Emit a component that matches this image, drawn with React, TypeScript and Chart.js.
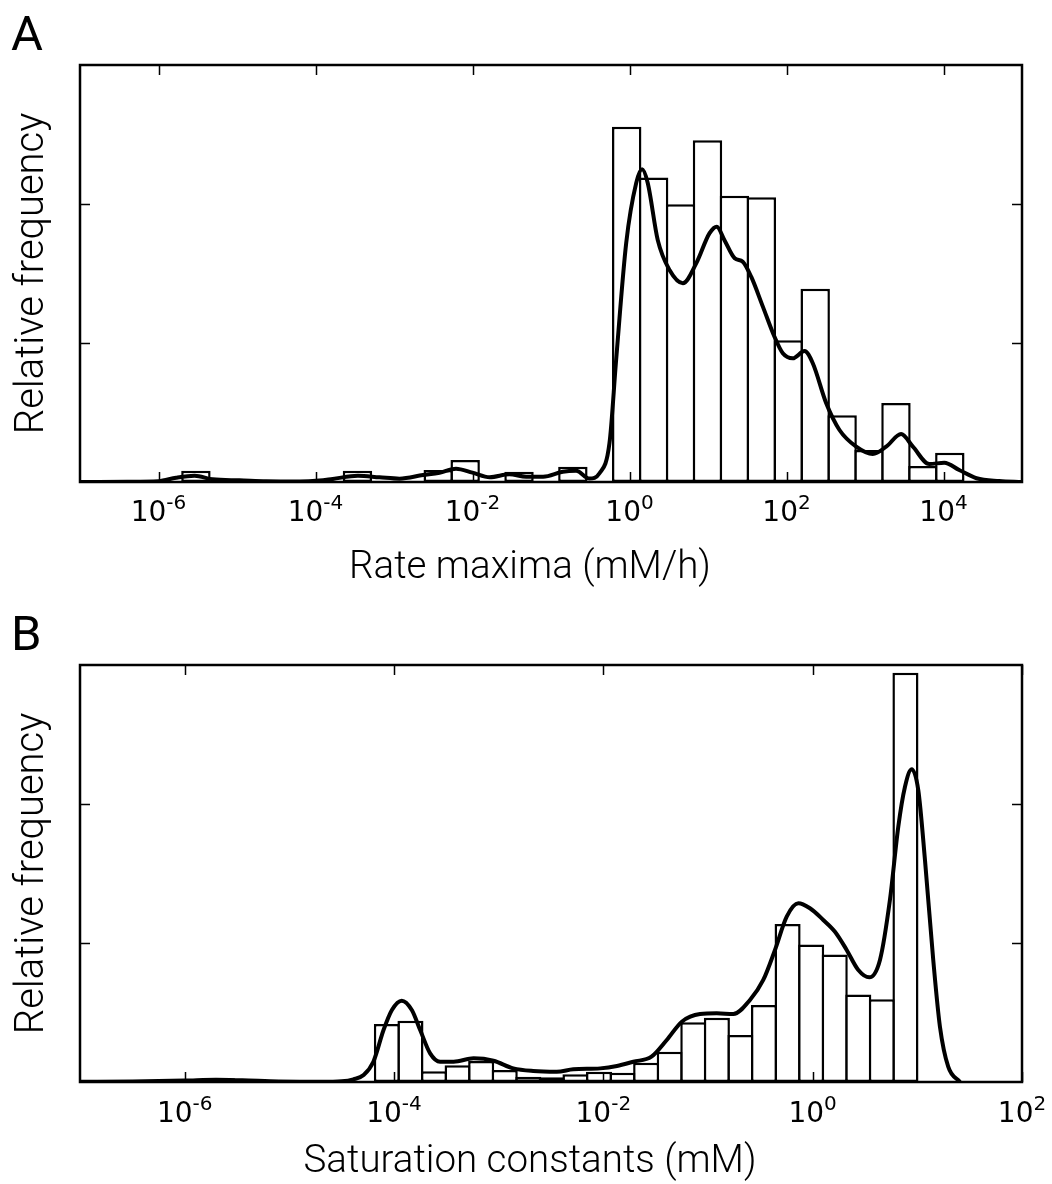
import React, { useEffect, useRef } from "react";
import { Chart, registerables } from "chart.js";

Chart.register(...registerables);

// ---------- Panel A: Rate maxima ----------
const rateBinStart = -5.695; // log10 of first bin's left edge
const rateBinWidth = 0.343; // bin width in decades
const rateFreq = [
  0.081, 0, 0, 0, 0, 0, 0.081, 0, 0, 0.086, 0.158, 0, 0.074, 0, 0.11, 0,
  2.556, 2.19, 1.998, 2.458, 2.06, 2.048, 1.02, 1.39, 0.48, 0.23, 0.568, 0.115, 0.211,
];
const rateKdeLog = [
  -7, -6.4, -6.0, -5.775, -5.54, -5.31, -4.97, -4.63, -4.2, -3.95, -3.78, -3.46, -3.185,
  -2.93, -2.63, -2.42, -2.21, -2.0, -1.78, -1.53, -1.316, -1.1, -0.85, -0.68, -0.51,
  -0.382, -0.255, -0.17, -0.042, 0.085, 0.16, 0.233, 0.36, 0.51, 0.68, 0.85, 1.02, 1.112,
  1.21, 1.34, 1.443, 1.55, 1.7, 1.847, 1.953, 2.08, 2.23, 2.335, 2.506, 2.675, 2.888, 3.1,
  3.27, 3.46, 3.61, 3.82, 4.01, 4.2, 4.42, 4.71, 5.0,
];
const rateKdeVal = [
  0, 0.002, 0.006, 0.031, 0.045, 0.019, 0.012, 0.005, 0.003, 0.01, 0.022, 0.045, 0.034,
  0.024, 0.05, 0.067, 0.096, 0.067, 0.034, 0.055, 0.038, 0.038, 0.074, 0.081, 0.025,
  0.063, 0.28, 0.88, 1.72, 2.15, 2.25, 2.15, 1.74, 1.525, 1.43, 1.573, 1.79, 1.837,
  1.74, 1.61, 1.585, 1.477, 1.26, 1.045, 0.926, 0.89, 0.942, 0.854, 0.566, 0.374, 0.254, 0.201,
  0.254, 0.345, 0.254, 0.129, 0.139, 0.086, 0.027, 0.007, 0,
];
const rateTickExps = [-6, -4, -2, 0, 2, 4];

// ---------- Panel B: Saturation constants ----------
const satBinStart = -5.757;
const satBinWidth = 0.2252;
const satFreq = [
  0.027, 0, 0, 0, 0, 0, 0, 0.417, 0.441, 0.077, 0.12, 0.151, 0.086, 0.038, 0.034, 0.055,
  0.074, 0.067, 0.139, 0.218, 0.43, 0.463, 0.338, 0.554, 1.137, 0.99, 0.918, 0.63, 0.595, 2.945,
];
const satKdeLog = [
  -7, -6.5, -6.0, -5.7, -5.45, -5.1, -4.7, -4.5, -4.388, -4.29, -4.197, -4.1, -4.02, -3.926,
  -3.83, -3.75, -3.655, -3.56, -3.43, -3.24, -3.05, -2.86, -2.67, -2.445, -2.287, -2.03,
  -1.87, -1.713, -1.54, -1.394, -1.25, -1.076, -0.917, -0.758, -0.599, -0.472, -0.36,
  -0.248, -0.137, -0.026, 0.101, 0.213, 0.325, 0.436, 0.541, 0.643, 0.738, 0.818, 0.882,
  0.946, 1.009, 1.073, 1.152, 1.216, 1.295, 1.407,
];
const satKdeVal = [
  0.001, 0.004, 0.01, 0.016, 0.012, 0.004, 0.001, 0.005, 0.019, 0.05, 0.146, 0.374, 0.518, 0.585,
  0.518, 0.374, 0.206, 0.146, 0.146, 0.17, 0.153, 0.098, 0.079, 0.074, 0.091, 0.098,
  0.115, 0.146, 0.182, 0.302, 0.434, 0.489, 0.494, 0.489, 0.59, 0.734, 0.95,
  1.19, 1.286, 1.25, 1.166, 1.081, 0.95, 0.806, 0.753, 0.878, 1.309, 1.837, 2.124,
  2.25, 2.1, 1.597, 0.878, 0.398, 0.11, 0,
];
const satTickExps = [-6, -4, -2, 0, 2];

const yTickValues = [1, 2];

type PanelSpec = {
  letter: string;
  xLabel: string;
  yLabel: string;
  binStart: number;
  binWidth: number;
  freq: number[];
  kdeLog: number[];
  kdeVal: number[];
  tickExps: number[];
  xMinExp: number;
  xMaxExp: number;
  padding: { left: number; right: number; top: number; bottom: number };
  letterBaseline: number;
  tickBaselineOffset: number;
  xLabelBaselineOffset: number;
};

const panels: PanelSpec[] = [
  {
    letter: "A",
    xLabel: "Rate maxima (mM/h)",
    yLabel: "Relative frequency",
    binStart: rateBinStart,
    binWidth: rateBinWidth,
    freq: rateFreq,
    kdeLog: rateKdeLog,
    kdeVal: rateKdeVal,
    tickExps: rateTickExps,
    xMinExp: -7,
    xMaxExp: 5,
    padding: { left: 80, right: 30, top: 65, bottom: 110 },
    letterBaseline: 50,
    tickBaselineOffset: 39,
    xLabelBaselineOffset: 96,
  },
  {
    letter: "B",
    xLabel: "Saturation constants (mM)",
    yLabel: "Relative frequency",
    binStart: satBinStart,
    binWidth: satBinWidth,
    freq: satFreq,
    kdeLog: satKdeLog,
    kdeVal: satKdeVal,
    tickExps: satTickExps,
    xMinExp: -7,
    xMaxExp: 2,
    padding: { left: 80, right: 30, top: 73, bottom: 102 },
    letterBaseline: 58,
    tickBaselineOffset: 40,
    xLabelBaselineOffset: 90,
  },
];

const W = 1052;
const H = 592;
const LABEL_FONT = '"Roboto", "Helvetica Neue", Arial, sans-serif';
const TICK_FONT = '"DejaVu Sans", sans-serif';

function makeDecorPlugin(spec: PanelSpec) {
  return {
    id: "mplDecor" + spec.letter,
    afterDraw(chart: any) {
      const ctx: CanvasRenderingContext2D = chart.ctx;
      const { left, right, top, bottom } = chart.chartArea;
      const xs = chart.scales.x;
      const ys = chart.scales.y;
      ctx.save();
      ctx.strokeStyle = "#000";
      ctx.lineCap = "butt";
      // ticks (inward, all four sides)
      ctx.lineWidth = 1.5;
      xs.ticks.forEach((t: any) => {
        const px = Math.round(xs.getPixelForValue(t.value)) + 0.5;
        ctx.beginPath();
        ctx.moveTo(px, bottom);
        ctx.lineTo(px, bottom - 10);
        ctx.moveTo(px, top);
        ctx.lineTo(px, top + 10);
        ctx.stroke();
      });
      yTickValues.forEach((v) => {
        const py = Math.round(ys.getPixelForValue(v)) + 0.5;
        ctx.beginPath();
        ctx.moveTo(left, py);
        ctx.lineTo(left + 10, py);
        ctx.moveTo(right, py);
        ctx.lineTo(right - 10, py);
        ctx.stroke();
      });
      // frame
      ctx.lineWidth = 2.5;
      ctx.strokeRect(left, top, right - left, bottom - top);

      // x tick labels 10^k
      ctx.fillStyle = "#000";
      ctx.textBaseline = "alphabetic";
      ctx.textAlign = "left";
      const baseY = bottom + spec.tickBaselineOffset;
      spec.tickExps.forEach((k) => {
        const px = xs.getPixelForValue(Math.pow(10, k));
        const base = "10";
        const sup = String(k);
        ctx.font = `28px ${TICK_FONT}`;
        const wb = ctx.measureText(base).width;
        ctx.font = `20px ${TICK_FONT}`;
        const ws = ctx.measureText(sup).width;
        const x0 = px - (wb + ws) / 2;
        ctx.font = `28px ${TICK_FONT}`;
        ctx.fillText(base, x0, baseY);
        ctx.font = `20px ${TICK_FONT}`;
        ctx.fillText(sup, x0 + wb, baseY - 12.5);
      });

      // x axis label
      ctx.font = `300 38.5px ${LABEL_FONT}`;
      ctx.textAlign = "center";
      ctx.fillText(spec.xLabel, 530, bottom + spec.xLabelBaselineOffset);

      // y axis label
      ctx.save();
      ctx.translate(43, (top + bottom) / 2);
      ctx.rotate(-Math.PI / 2);
      ctx.textAlign = "center";
      ctx.font = `300 40px ${LABEL_FONT}`;
      ctx.fillText(spec.yLabel, 0, 0);
      ctx.restore();

      // panel letter
      ctx.font = `400 49px ${LABEL_FONT}`;
      ctx.textAlign = "left";
      ctx.fillText(spec.letter, 11, spec.letterBaseline);
      ctx.restore();
    },
  };
}

function Panel({ spec }: { spec: PanelSpec }) {
  const ref = useRef<HTMLCanvasElement | null>(null);
  useEffect(() => {
    if (!ref.current) return;
    const plotWidth = W - spec.padding.left - spec.padding.right;
    const binPx = (plotWidth * spec.binWidth) / (spec.xMaxExp - spec.xMinExp);
    const edge = 2.5;
    const barData = spec.freq.map((f, i) => ({
      x: Math.pow(10, spec.binStart + (i + 0.5) * spec.binWidth),
      y: f,
    }));
    const lineData = spec.kdeLog.map((lx, i) => ({ x: Math.pow(10, lx), y: spec.kdeVal[i] }));
    const chart = new Chart(ref.current, {
      type: "bar",
      data: {
        datasets: [
          {
            type: "line",
            data: lineData,
            borderColor: "#000",
            borderWidth: 4,
            pointRadius: 0,
            fill: false,
            cubicInterpolationMode: "monotone",
            order: 0,
          } as any,
          {
            type: "bar",
            data: barData,
            backgroundColor: "#fff",
            borderColor: "#000",
            borderWidth: edge,
            borderSkipped: false,
            barPercentage: 1 + edge / binPx,
            categoryPercentage: 1,
            grouped: false,
            order: 1,
          } as any,
        ],
      },
      options: {
        animation: false,
        responsive: false,
        devicePixelRatio: 1,
        events: [],
        layout: { padding: spec.padding },
        plugins: { legend: { display: false }, tooltip: { enabled: false } },
        scales: {
          x: {
            type: "logarithmic",
            min: Math.pow(10, spec.xMinExp),
            max: Math.pow(10, spec.xMaxExp),
            offset: false,
            display: false,
            grid: { offset: false },
            afterBuildTicks: (scale: any) => {
              scale.ticks = spec.tickExps.map((k) => ({ value: Math.pow(10, k) }));
            },
          },
          y: { type: "linear", min: 0, max: 3, display: false },
        },
      } as any,
      plugins: [makeDecorPlugin(spec)],
    });
    return () => chart.destroy();
  }, [spec]);
  return <canvas ref={ref} width={W} height={H} style={{ display: "block", width: W, height: H }} />;
}

export default function App() {
  return (
    <div style={{ position: "absolute", left: 0, top: 0, width: W, height: 2 * H, background: "#fff" }}>
      {panels.map((p) => (
        <Panel key={p.letter} spec={p} />
      ))}
    </div>
  );
}
